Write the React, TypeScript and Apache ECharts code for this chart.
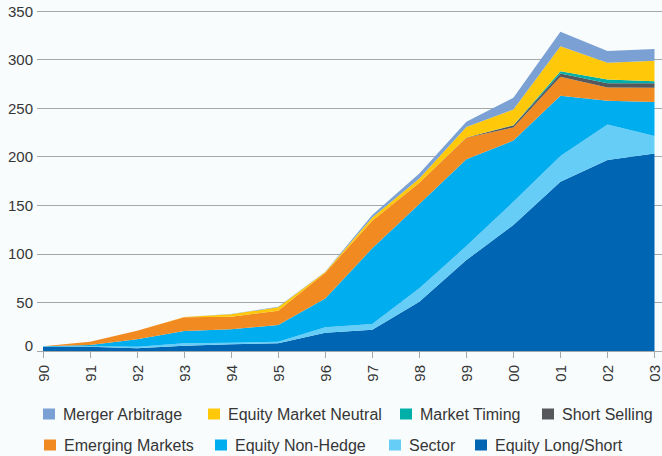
import React, { useEffect, useRef } from "react";
import * as echarts from "echarts";

const years = ["90", "91", "92", "93", "94", "95", "96", "97", "98", "99", "00", "01", "02", "03"];

const equityLongShort = [4, 4.5, 2.8, 5.5, 7, 8, 18.8, 22, 50.7, 93.6, 129.7, 174.2, 196.5, 203.4];
const sector = [0.5, 0.5, 1.6, 2.4, 1.5, 1.6, 5.6, 5.8, 13.8, 14.4, 23.9, 26.5, 36.7, 18];
const equityNonHedge = [0.3, 1.2, 7.6, 12.7, 13.8, 17.2, 29.6, 77.9, 86.8, 89.3, 63, 62, 24.4, 35];
const emergingMarkets = [0.2, 3.4, 8.9, 14.1, 13, 14.7, 26.6, 28.3, 21.9, 22.1, 13.6, 19.6, 13.7, 14.6];
const shortSelling = [0, 0, 0, 0, 0, 0, 0, 0, 0, 0.5, 2, 3.4, 4.2, 4.5];
const marketTiming = [0, 0, 0, 0, 0, 0, 0, 0, 0, 0, 0.3, 2.3, 4.1, 2.3];
const equityMarketNeutral = [0, 0, 0, 0.4, 2.5, 3.5, 0.8, 3.5, 4.5, 10.8, 16.1, 25.8, 17.1, 21];
const mergerArbitrage = [0, 0, 0, 0, 0.3, 0.5, 0.3, 2.5, 5, 5.2, 12, 14.8, 12, 12];

const yTicks = { min: 0, max: 350, interval: 50 };

const seriesDefs = [
  { name: "Equity Long/Short", data: equityLongShort, color: "#0065B3" },
  { name: "Sector", data: sector, color: "#66CDF6" },
  { name: "Equity Non-Hedge", data: equityNonHedge, color: "#00ADEF" },
  { name: "Emerging Markets", data: emergingMarkets, color: "#F28A22" },
  { name: "Short Selling", data: shortSelling, color: "#56585B" },
  { name: "Market Timing", data: marketTiming, color: "#00B0A8" },
  { name: "Equity Market Neutral", data: equityMarketNeutral, color: "#FFC90A" },
  { name: "Merger Arbitrage", data: mergerArbitrage, color: "#7BA0D4" },
];

const legendPlacement = [
  { name: "Merger Arbitrage", left: 43, top: 405 },
  { name: "Equity Market Neutral", left: 208, top: 405 },
  { name: "Market Timing", left: 400, top: 405 },
  { name: "Short Selling", left: 542, top: 405 },
  { name: "Emerging Markets", left: 44, top: 436 },
  { name: "Equity Non-Hedge", left: 215, top: 436 },
  { name: "Sector", left: 389, top: 436 },
  { name: "Equity Long/Short", left: 475, top: 436 },
];

const FONT = "'Liberation Sans', Arial, Helvetica, sans-serif";
const TEXT = "#363636";
const GRID_LINE = "#a5a8ab";

export default function App() {
  const ref = useRef<HTMLDivElement>(null);

  useEffect(() => {
    if (!ref.current) return;
    const chart = echarts.init(ref.current, undefined, { renderer: "svg" });
    const option: any = {
      animation: false,
      backgroundColor: "#F8FCFD",
      textStyle: { fontFamily: FONT },
      grid: [
        { left: 37, right: 0, top: 11, bottom: 105 },
        { left: 43, right: 4, top: 11, bottom: 105 },
      ],
      xAxis: [
        { gridIndex: 0, type: "value", show: false, min: 0, max: 1 },
        {
          gridIndex: 1,
          type: "category",
          data: years,
          boundaryGap: false,
          axisLine: { show: true, lineStyle: { color: GRID_LINE, width: 1 } },
          axisTick: { show: true, length: 7, lineStyle: { color: GRID_LINE } },
          axisLabel: {
            rotate: 90,
            margin: 14,
            fontSize: 15,
            color: TEXT,
            fontFamily: FONT,
          },
        },
      ],
      yAxis: [
        {
          gridIndex: 0,
          type: "value",
          ...yTicks,
          axisLine: { show: false },
          axisTick: { show: false },
          splitLine: { show: true, lineStyle: { color: GRID_LINE, width: 1 } },
          axisLabel: {
            margin: 4,
            fontSize: 15,
            color: TEXT,
            fontFamily: FONT,
            formatter: (v: number) => (v === 0 ? "{z|0}" : String(v)),
            rich: { z: { fontSize: 15, color: TEXT, fontFamily: FONT, padding: [0, 0, 12, 0] } },
          },
        },
        {
          gridIndex: 1,
          type: "value",
          ...yTicks,
          show: false,
          splitLine: { show: false },
        },
      ],
      legend: legendPlacement.map((l) => ({
        data: [l.name],
        left: l.left,
        top: l.top,
        padding: 0,
        icon: "rect",
        itemWidth: 12,
        itemHeight: 11,
        itemGap: 0,
        selectedMode: false,
        textStyle: {
          fontSize: 16,
          color: TEXT,
          fontFamily: FONT,
          lineHeight: 18,
          padding: [0, 0, 0, 3],
        },
      })),
      series: seriesDefs.map((s) => ({
        name: s.name,
        type: "line",
        xAxisIndex: 1,
        yAxisIndex: 1,
        stack: "total",
        data: s.data,
        symbol: "none",
        itemStyle: { color: s.color },
        lineStyle: { width: 0, color: s.color },
        areaStyle: { color: s.color, opacity: 1 },
      })),
    };
    chart.setOption(option);
    return () => chart.dispose();
  }, []);

  return (
    <div
      ref={ref}
      style={{ position: "fixed", left: 0, top: 0, width: 662, height: 456 }}
    />
  );
}
